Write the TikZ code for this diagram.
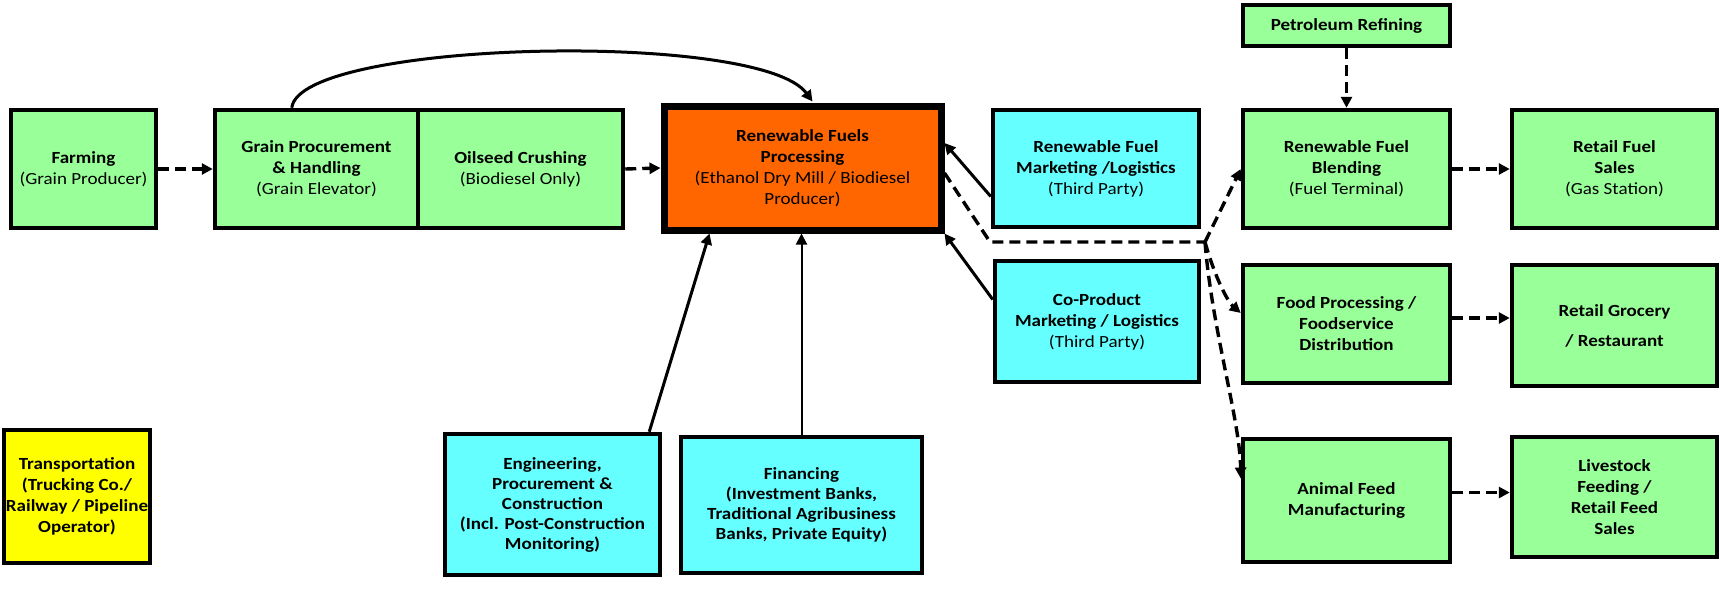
\documentclass[tikz,border=0pt]{standalone}
\usepackage{fontspec}
\setmainfont{Carlito}[FakeStretch=1.12]
\usetikzlibrary{arrows.meta,calc}
\definecolor{grn}{HTML}{99FF99}
\definecolor{cyn}{HTML}{66FFFF}
\definecolor{org}{HTML}{FF6600}
\definecolor{ylw}{HTML}{FFFF00}
\newcommand{\pl}[1]{{\mdseries #1}}
\begin{document}
\begin{tikzpicture}[x=1pt,y=-1pt,
  box/.style={draw, line width=4.5pt, inner sep=2pt, align=center,
    font=\fontsize{17}{21}\selectfont\bfseries, text=black},
  gbox/.style={box, fill=grn},
  cbox/.style={box, fill=cyn},
  obox/.style={box, fill=org, line width=7pt},
  ybox/.style={box, fill=ylw},
  arr/.style={line width=3pt, -{Triangle[length=11pt,width=11pt]}},
  thinarr/.style={line width=2pt, -{Triangle[length=11pt,width=11pt]}},
  darr/.style={line width=3.4pt, dash pattern=on 11pt off 6pt, -{Triangle[length=11pt,width=11pt]}},
  dline/.style={line width=3.4pt, dash pattern=on 11pt off 6pt},
]
\useasboundingbox (0,0) rectangle (1720,590);

% top row
\node[gbox, minimum width=145pt, minimum height=118pt] (farm) at (83.5,169) {Farming\\\pl{(Grain Producer)}};
\node[gbox, minimum width=203pt, minimum height=118pt] (grain) at (316.5,169) {Grain Procurement\\\& Handling\\\pl{(Grain Elevator)}};
\node[gbox, minimum width=205pt, minimum height=118pt] (oil) at (520.5,169) {Oilseed Crushing\\\pl{(Biodiesel Only)}};
\node[obox, minimum width=277pt, minimum height=124pt] (rfp) at (802.5,168) {Renewable Fuels\\Processing\\\pl{(Ethanol Dry Mill / Biodiesel}\\\pl{Producer)}};
\node[cbox, minimum width=206pt, minimum height=117pt] (rfm) at (1096,168.5) {Renewable Fuel\\Marketing /Logistics\\\pl{(Third Party)}};
\node[cbox, minimum width=204pt, minimum height=121pt] (cop) at (1097,321.5) {Co-Product\\Marketing / Logistics\\\pl{(Third Party)}};

\node[gbox, minimum width=207pt, minimum height=41pt] (pet) at (1346.5,25.5) {Petroleum Refining};
\node[gbox, minimum width=207pt, minimum height=118pt] (rfb) at (1346.5,169) {Renewable Fuel\\Blending\\\pl{(Fuel Terminal)}};
\node[gbox, minimum width=205pt, minimum height=118pt] (rfs) at (1614.5,169) {Retail Fuel\\Sales\\\pl{(Gas Station)}};
\node[gbox, minimum width=207pt, minimum height=118pt] (fp) at (1346.5,324) {Food Processing /\\Foodservice\\Distribution};
\node[gbox, minimum width=205pt, minimum height=121pt] (rg) at (1614.5,325.5) {Retail Grocery\\[9pt]/ Restaurant};
\node[gbox, minimum width=207pt, minimum height=123pt] (af) at (1346.5,500.5) {Animal Feed\\Manufacturing};
\node[gbox, minimum width=205pt, minimum height=120pt] (ls) at (1614.5,497) {Livestock\\Feeding /\\Retail Feed\\Sales};

% bottom row
\node[ybox, minimum width=132pt, minimum height=133pt] (tr) at (77,496.5) {Transportation\\(Trucking Co./\\Railway / Pipeline\\Operator)};
\node[cbox, minimum width=215pt, minimum height=141pt, font=\fontsize{17}{20}\selectfont\bfseries] (eng) at (552.5,504.5) {Engineering,\\Procurement \&\\Construction\\(Incl. Post-Construction\\Monitoring)};
\node[cbox, minimum width=241pt, minimum height=136pt, font=\fontsize{17}{20}\selectfont\bfseries] (fin) at (801.5,505) {Financing\\(Investment Banks,\\Traditional Agribusiness\\Banks, Private Equity)};

% connectors
\draw[darr] (farm.east) -- (grain.west);
\draw[darr] (oil.east) -- (rfp.west);
\coordinate (arcS) at ($(grain.north west)+(79,0)$);
\coordinate (arcE) at ($(rfp.north)+(10,-1)$);
\draw[arr] (arcS) .. controls (300,40) and (760,30) .. (arcE);

\draw[arr] ($(rfm.west)+(0,28)$) -- ($(rfp.east)+(0,-25)$);
\draw[arr] ($(cop.west)+(0,-22)$) -- (rfp.south east);
\draw[arr] ($(eng.north east)+(-13,0)$) -- ($(rfp.south west)+(49,0)$);
\draw[thinarr] (fin.north) -- (fin.north |- rfp.south);

\coordinate (bend) at (990,242);
\coordinate (br) at (1205,242);
\draw[dline] ($(rfp.east)+(0,5)$) -- (bend) -- (br);
\draw[darr] (br) -- (rfb.west);
\draw[darr] (br) .. controls (1215,278) and (1228,302) .. ($(fp.west)+(0,-11)$);
\draw[darr] (br) .. controls (1212,330) and (1240,420) .. ($(af.west)+(0,-22)$);

\draw[darr] (pet.south) -- (rfb.north);
\draw[darr] (rfb.east) -- (rfs.west);
\draw[darr] ($(fp.east)+(0,-6)$) -- ($(rg.west)+(0,-7.5)$);
\draw[darr] ($(af.east)+(0,-8)$) -- ($(ls.west)+(0,-4.5)$);
\end{tikzpicture}
\end{document}
